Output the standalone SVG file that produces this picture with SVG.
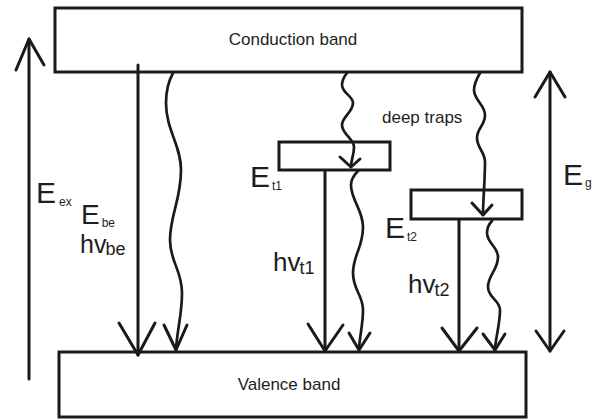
<svg xmlns="http://www.w3.org/2000/svg" width="598" height="419" viewBox="0 0 598 419">
<style>
.box{fill:#fff;stroke:#1a1a1a;stroke-width:3}
.ln{fill:none;stroke:#1a1a1a;stroke-width:3;stroke-linecap:round;stroke-linejoin:round}
.wv{fill:none;stroke:#1a1a1a;stroke-width:2.7;stroke-linecap:round;stroke-linejoin:round}
text{font-family:"Liberation Sans",Arial,sans-serif;fill:#1e1e1e}
.band{font-size:17px;text-anchor:middle}
.big{font-size:30px}
.hv{font-size:26px}
.sm{font-size:12px}
.md{font-size:18px}
</style>
<rect width="598" height="419" fill="#fff"/>
<g id="conduction-band">
<rect class="box" x="55" y="8" width="467" height="64"/>
<text class="band" x="293" y="45">Conduction band</text>
</g>
<g id="valence-band">
<rect class="box" x="59" y="352" width="467" height="65"/>
<text class="band" x="289" y="390">Valence band</text>
</g>
<g id="trap1">
<rect class="box" x="279" y="142" width="111" height="28"/>
</g>
<g id="trap2">
<rect class="box" x="411" y="190" width="111" height="29"/>
</g>
<g id="connectors">
<!-- E_ex -->
<line class="ln" x1="29" y1="379" x2="29" y2="39"/>
<polyline class="ln" points="16,70 29,39 44,65"/>
<!-- E_be -->
<line class="ln" x1="138" y1="65" x2="138" y2="355"/>
<polyline class="ln" points="119,323 138,355 155,323"/>
<!-- wavy CB->VB -->
<path class="wv" d="M173,73 C168,82 166,92 166,103 C166,130 181,145 181,170 C181,200 170,215 170,240 C170,262 182,270 182,293 C182,315 177,330 176,350"/>
<polyline class="ln" points="164,325 176,350 187,325"/>
<!-- wavy CB->Et1 -->
<path class="wv" d="M347,73 C343,78 342,81 342,85 C342,93 353,96 353,103 C353,112 342,117 342,125 C342,134 354,139 354,147 C354,155 351,160 351,167"/>
<polyline class="ln" points="340,157 351,167 360,159"/>
<!-- hv_t1 -->
<line class="ln" x1="325" y1="171" x2="325" y2="351"/>
<polyline class="ln" points="308,324 325,351 343,325"/>
<!-- wavy Et1->VB -->
<path class="wv" d="M358,171 C353,176 351,180 351,185 C351,200 363,210 363,227 C363,248 353,255 353,273 C353,290 363,295 363,310 C363,325 359,340 359,350"/>
<polyline class="ln" points="349,333 359,350 370,333"/>
<!-- wavy CB->Et2 -->
<path class="wv" d="M480,73 C476,80 474,85 474,90 C474,100 485,105 485,115 C485,126 477,128 477,138 C477,148 485,152 485,162 C485,180 483,200 483,215"/>
<polyline class="ln" points="472,203 483,215 492,205"/>
<!-- hv_t2 -->
<line class="ln" x1="459" y1="220" x2="459" y2="351"/>
<polyline class="ln" points="442,328 459,351 477,328"/>
<!-- wavy Et2->VB -->
<path class="wv" d="M492,221 C488,225 487,229 487,233 C487,243 498,247 498,257 C498,270 488,275 488,287 C488,298 500,300 500,310 C500,325 495,340 495,350"/>
<polyline class="ln" points="483,334 495,350 505,334"/>
<!-- E_g -->
<line class="ln" x1="550" y1="72" x2="550" y2="351"/>
<polyline class="ln" points="535,97 550,72 565,97"/>
<polyline class="ln" points="536,331 550,351 564,331"/>
</g>
<g id="labels">
<text x="36" y="203"><tspan class="big">E</tspan><tspan class="sm" dx="3" dy="3">ex</tspan></text>
<text x="81" y="224"><tspan style="font-size:28px">E</tspan><tspan class="sm" dx="2" dy="3">be</tspan></text>
<text x="80" y="253"><tspan style="font-size:25px">hv</tspan><tspan class="md" dx="-1" dy="2">be</tspan></text>
<text x="250" y="187"><tspan class="big">E</tspan><tspan class="sm" dx="2" dy="3">t1</tspan></text>
<text x="273" y="271"><tspan class="hv">hv</tspan><tspan class="md" dx="-1" dy="3">t1</tspan></text>
<text x="385" y="238"><tspan class="big">E</tspan><tspan class="sm" dx="2" dy="3">t2</tspan></text>
<text x="408" y="293"><tspan class="hv">hv</tspan><tspan class="md" dx="-1" dy="3">t2</tspan></text>
<text x="563" y="185"><tspan class="big">E</tspan><tspan class="sm" dx="2" dy="2">g</tspan></text>
<text x="382" y="123" style="font-size:17px">deep traps</text>
</g>
</svg>
